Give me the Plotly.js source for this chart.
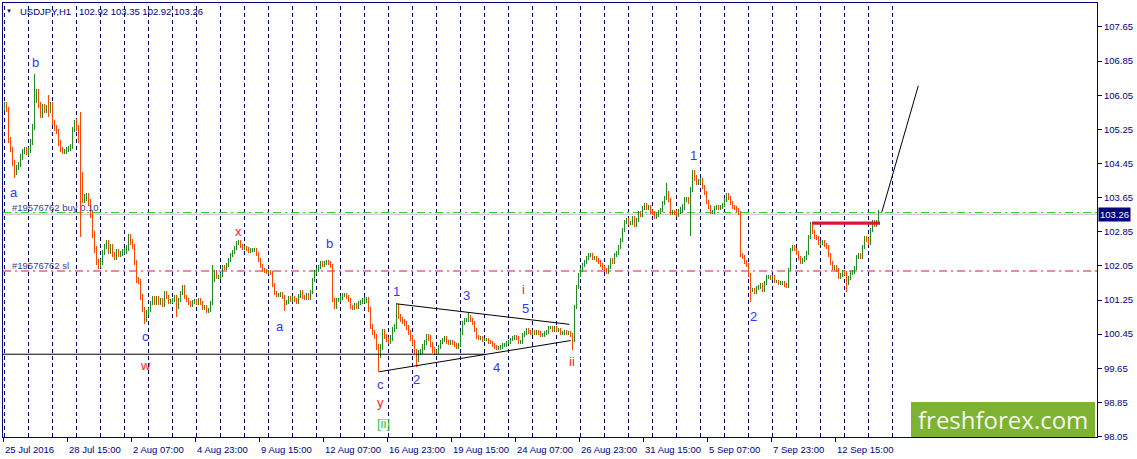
<!DOCTYPE html>
<html><head><meta charset="utf-8">
<script src="https://cdn.plot.ly/plotly-3.0.1.min.js"></script>
<style>html,body{margin:0;padding:0;background:#fff;overflow:hidden}#chart{width:1137px;height:459px}</style>
</head><body><div id="chart"></div>
<script>
// ---------- DATA (USDJPY H1, one value per 2 hourly bars) ----------
const firstOpen = 105.75;
const closes = [
105.82,105.71,105.00,104.77,104.46,104.25,104.35,104.42,104.60,104.72,104.77,104.70,
104.77,104.96,105.31,105.94,106.13,105.82,105.59,105.78,105.71,105.75,105.71,105.82,
105.40,105.28,105.19,104.93,104.77,104.72,104.74,104.77,104.80,104.84,105.24,105.42,
105.28,105.00,104.18,103.60,103.66,103.67,103.53,103.25,102.78,102.43,102.14,102.05,
102.14,102.36,102.50,102.59,102.38,102.50,102.31,102.24,102.38,102.31,102.33,102.38,
102.40,102.47,102.73,102.61,102.50,102.12,101.72,101.68,101.32,101.02,100.79,100.95,
101.02,101.18,101.30,101.18,101.30,101.18,101.25,101.14,101.42,101.32,101.21,101.23,
101.25,101.32,101.09,101.25,101.42,101.56,101.32,101.25,101.18,101.14,101.21,101.23,
101.18,101.25,101.18,101.07,101.09,101.00,101.02,101.18,101.72,101.91,101.79,101.79,
101.84,102.03,102.00,102.07,102.19,102.31,102.38,102.47,102.59,102.61,102.52,102.47,
102.47,102.45,102.40,102.43,102.43,102.43,102.33,102.19,102.05,101.96,101.93,101.91,
101.91,101.89,101.60,101.42,101.37,101.37,101.39,101.32,101.18,101.21,101.30,101.25,
101.30,101.25,101.21,101.35,101.44,101.32,101.30,101.37,101.30,101.44,101.72,101.91,
101.96,102.03,102.12,102.07,102.12,102.14,102.12,102.05,101.25,101.09,101.25,101.25,
101.30,101.37,101.37,101.32,101.25,101.09,101.07,101.14,101.09,101.18,101.21,101.25,
101.25,101.25,101.02,100.62,100.48,100.39,100.15,99.96,100.15,100.50,100.39,100.32,
100.27,100.36,100.55,100.62,101.09,100.86,100.79,100.74,100.71,100.60,100.48,100.36,
100.25,100.04,99.85,100.01,100.04,100.15,100.25,100.39,100.36,100.20,100.08,100.01,
100.04,100.15,100.27,100.32,100.36,100.27,100.25,100.27,100.25,100.20,100.15,100.20,
100.48,100.71,100.79,100.79,100.86,100.79,100.71,100.55,100.39,100.36,100.36,100.32,
100.32,100.32,100.27,100.25,100.20,100.15,100.13,100.13,100.15,100.20,100.20,100.25,
100.27,100.32,100.36,100.39,100.36,100.27,100.27,100.43,100.48,100.55,100.50,100.48,
100.50,100.48,100.50,100.48,100.43,100.43,100.48,100.50,100.60,100.60,100.55,100.60,
100.55,100.55,100.48,100.48,100.50,100.48,100.48,100.43,100.32,101.09,101.56,101.84,
101.96,102.07,102.14,102.24,102.31,102.31,102.24,102.24,102.19,102.14,102.07,102.00,
101.96,101.91,102.03,102.19,102.14,102.31,102.36,102.50,102.66,102.89,103.08,103.13,
103.06,103.06,103.18,103.01,103.13,103.29,103.25,103.41,103.48,103.41,103.43,103.32,
103.29,103.20,103.25,103.32,103.36,103.53,103.64,103.76,103.60,103.29,103.32,103.29,
103.25,103.32,103.36,103.43,103.60,103.60,103.55,103.83,104.23,104.11,104.00,104.02,
104.07,103.90,103.76,103.55,103.43,103.32,103.32,103.41,103.43,103.41,103.43,103.48,
103.60,103.71,103.64,103.53,103.43,103.41,103.36,103.29,102.31,102.26,102.14,102.07,
101.84,101.49,101.49,101.44,101.53,101.56,101.60,101.49,101.65,101.79,101.79,101.77,
101.79,101.68,101.68,101.65,101.65,101.65,101.60,101.56,101.96,102.43,102.50,102.43,
102.36,102.24,102.14,102.19,102.24,102.36,102.73,103.01,102.85,102.73,102.71,102.59,
102.59,102.61,102.54,102.50,102.31,102.12,102.00,102.03,101.96,101.79,101.84,101.91,
101.89,101.65,101.77,101.89,101.91,102.00,102.26,102.31,102.26,102.50,102.71,102.66,
102.59,102.89,103.08,103.01,103.08,103.26
];
// typical half bar-range per trading day (price units)
const dayWick = [0.06,0.07,0.06,0.08,0.06,0.06,0.05,0.05,0.05,0.05,0.05,0.05,0.05,0.05,0.05,0.06,0.06,0.06,0.05,0.05,0.04,0.04,0.04,0.05,0.05,0.05,0.05,0.05,0.06,0.05,0.05,0.05,0.04,0.05,0.05,0.05,0.05];
// long wicks (sample index, high, low)
const spikeIdx = [5,15,22,38,62,70,86,104,140,187,196,206,232,284,331,343,344,373,403,421,437];
const spikeHi  = [104.30,106.55,106.06,105.66,102.80,100.85,101.15,102.07,101.25,100.10,101.18,99.95,100.95,100.40,104.00,103.83,104.28,101.55,103.08,101.70,103.35];
const spikeLo  = [104.11,105.94,105.55,102.73,102.60,100.69,100.86,101.72,101.00,99.57,100.95,99.68,100.80,100.08,103.70,102.76,104.10,101.21,102.95,101.44,103.20];

const priceTicks = [98.05,98.85,99.65,100.45,101.25,102.05,102.85,103.65,104.45,105.25,106.05,106.85,107.65];
const dateTicks  = [0,64,128,192,256,320,384,448,512,576,640,704,768,832];
const dateLabels = ['25 Jul 2016','28 Jul 15:00','2 Aug 07:00','4 Aug 23:00','9 Aug 15:00','12 Aug 07:00','16 Aug 23:00','19 Aug 15:00','24 Aug 07:00','26 Aug 23:00','31 Aug 15:00','5 Sep 07:00','7 Sep 23:00','12 Sep 15:00'];
const daySeparators = [1,25,49,73,97,121,145,169,193,217,241,265,289,313,337,361,385,409,433,457,481,505,529,553,577,601,625,649,673,697,721,745,769,793,817,841,865,889];

const lastPrice = 103.26, buyPrice = 103.30, slPrice = 101.93;
const ohlcTitle = ['102.92','103.35','102.92','103.26'];

// hand-drawn objects: [x0, y0, x1, y1]
const supportLine = [0, 99.98, 482, 99.98];
const triUpper = [393.7, 101.16, 566.3, 100.68];
const triLower = [376.3, 99.57, 567.7, 100.30];
const forecast = [878.7, 103.30, 915.3, 106.27];
const resistance = [809, 103.05, 877, 103.05];

// wave labels: text, x, price, colour key
const waveLabels = [
 ['b',32,106.81,'B'],['a',11,103.78,'B'],['c',142,100.39,'B'],['w',142,99.71,'R'],
 ['x',235,102.85,'R'],['a',277,100.64,'B'],['b',326,102.57,'B'],['1',393,101.44,'B'],
 ['3',463,101.35,'B'],['i',520,101.49,'R'],['5',522,101.04,'B'],['2',413,99.38,'B'],
 ['4',493,99.66,'B'],['ii',569,99.80,'R'],['c',377,99.26,'B'],['y',377,98.86,'R'],
 ['[ii]',380,98.35,'G'],['1',690,104.63,'B'],['2',750,100.86,'B']
];

// ---------- BUILD ----------
const UP = '#228B22', DOWN = '#FF4500';
const NAVY = '#000080';
const LBL = {B:'#3535F5', R:'#FF1A1A', G:'#33C533'};
const X0 = 1.5, STEP = 2, CRISP = 0.5;
const bx=[], bBase=[], bH=[], bCol=[];
let prev = firstOpen;
closes.forEach((c,k)=>{
  const w = dayWick[Math.floor(k/12)];
  const lo = Math.min(prev,c)-w, hi = Math.max(prev,c)+w;
  bx.push(X0+STEP*k); bBase.push(lo); bH.push(hi-lo);
  bCol.push(c>=prev?UP:DOWN);
  prev = c;
});
const sx=[], sBase=[], sH=[], sCol=[];
spikeIdx.forEach((k,i)=>{
  sx.push(X0+STEP*k); sBase.push(spikeLo[i]); sH.push(spikeHi[i]-spikeLo[i]); sCol.push(bCol[k]);
});

const traces = [
 {type:'bar', x:bx, y:bH, base:bBase, width:1.6, marker:{color:bCol, line:{width:0}}, hoverinfo:'skip'},
 {type:'bar', x:sx, y:sH, base:sBase, width:1.0, marker:{color:sCol, line:{width:0}}, hoverinfo:'skip'}
];

const PT = 3, PB = 437, PH = PB-PT;
const py = px => (PB-px)/PH;
const FONT = 'Tahoma, "Liberation Sans", Arial, sans-serif';

const shapes = [];
daySeparators.forEach(x=>shapes.push({type:'line', xref:'x', yref:'paper', x0:x+CRISP, x1:x+CRISP, y0:0, y1:1, layer:'below', line:{color:NAVY, width:1, dash:'4px,3px'}}));
shapes.push({type:'line', xref:'paper', yref:'y', x0:0, x1:1, y0:lastPrice, y1:lastPrice, layer:'below', line:{color:'#C0C0C0', width:1}});
shapes.push({type:'line', xref:'paper', yref:'y', x0:0, x1:1, y0:buyPrice, y1:buyPrice, layer:'below', line:{color:'#32CD32', width:1, dash:'8px,4px,2px,4px'}});
shapes.push({type:'line', xref:'paper', yref:'y', x0:0, x1:1, y0:slPrice, y1:slPrice, layer:'below', line:{color:'#DC143C', width:1, dash:'8px,4px,2px,4px'}});
[supportLine, triUpper, triLower, forecast].forEach(l=>shapes.push({type:'line', xref:'x', yref:'y', x0:l[0], y0:l[1], x1:l[2], y1:l[3], layer:'above', line:{color:'#000000', width:1}}));
shapes.push({type:'line', xref:'x', yref:'y', x0:resistance[0], y0:resistance[1], x1:resistance[2], y1:resistance[3], layer:'above', line:{color:'#DC143C', width:3.3}});
// logo box
shapes.push({type:'rect', xref:'paper', yref:'paper', x0:(911-3)/1094, x1:(1095-3)/1094, y0:0, y1:py(402), layer:'above', fillcolor:'#7DB233', line:{width:0}});

const annotations = [];
// header
annotations.push({xref:'paper', yref:'paper', x:(9-3)/1094, y:py(11), xanchor:'center', yanchor:'middle', text:'▼', showarrow:false, font:{family:FONT, size:6, color:NAVY}});
annotations.push({xref:'paper', yref:'paper', x:(18-3)/1094, y:py(11), xanchor:'left', yanchor:'middle', text:'USDJPY,H1\u00a0\u00a0\u00a0'+ohlcTitle.join(' '), showarrow:false, font:{family:FONT, size:9.5, color:NAVY}});
// order labels
annotations.push({xref:'x', yref:'y', x:7, y:103.41, xanchor:'left', yanchor:'middle', text:'#19576762 buy 0.10', showarrow:false, font:{family:FONT, size:9.5, color:'#3C3C8C'}});
annotations.push({xref:'x', yref:'y', x:7, y:102.05, xanchor:'left', yanchor:'middle', text:'#19576762 sl', showarrow:false, font:{family:FONT, size:9.5, color:'#3C3C8C'}});
// wave labels
waveLabels.forEach(w=>annotations.push({xref:'x', yref:'y', x:w[1], y:w[2], xanchor:'center', yanchor:'middle', text:w[0], showarrow:false, font:{family:FONT, size:13, color:LBL[w[3]]}}));
// date labels
dateTicks.forEach((t,i)=>annotations.push({xref:'x', yref:'paper', x:t, y:py(449), xanchor:'left', yanchor:'middle', text:dateLabels[i], showarrow:false, font:{family:FONT, size:9.5, color:NAVY}}));
// current price box
annotations.push({xref:'paper', yref:'y', x:1, y:lastPrice, xanchor:'left', yanchor:'middle', xshift:1, text:lastPrice.toFixed(2), showarrow:false, bgcolor:NAVY, borderpad:1, font:{family:FONT, size:9.5, color:'#FFFFFF'}});
// logo text
annotations.push({xref:'paper', yref:'paper', x:(1003-3)/1094, y:py(419), xanchor:'center', yanchor:'middle', text:'freshforex.com', showarrow:false, font:{family:'"Open Sans", "Noto Sans", sans-serif', size:24, color:'#F4F8EC'}});

const layout = {
  width:1137, height:459,
  margin:{l:3, r:40, t:3, b:22, pad:0},
  paper_bgcolor:'#FFFFFF', plot_bgcolor:'#FFFFFF',
  showlegend:false, barmode:'overlay', bargap:0,
  xaxis:{range:[0,1094], fixedrange:true, showgrid:false, zeroline:false,
    tickmode:'array', tickvals:dateTicks, showticklabels:false, ticks:'outside', ticklen:4, tickcolor:NAVY,
    showline:true, mirror:true, linecolor:NAVY, linewidth:1},
  yaxis:{range:[98.04,108.21], side:'right', fixedrange:true, showgrid:false, zeroline:false,
    tickmode:'array', tickvals:priceTicks, ticktext:priceTicks.map(v=>v.toFixed(2)),
    ticks:'outside', ticklen:4, tickcolor:NAVY, tickfont:{family:FONT, size:9.5, color:NAVY},
    showline:true, mirror:true, linecolor:NAVY, linewidth:1},
  shapes:shapes, annotations:annotations
};
Plotly.newPlot('chart', traces, layout, {staticPlot:true, displayModeBar:false});
</script>
</body></html>
